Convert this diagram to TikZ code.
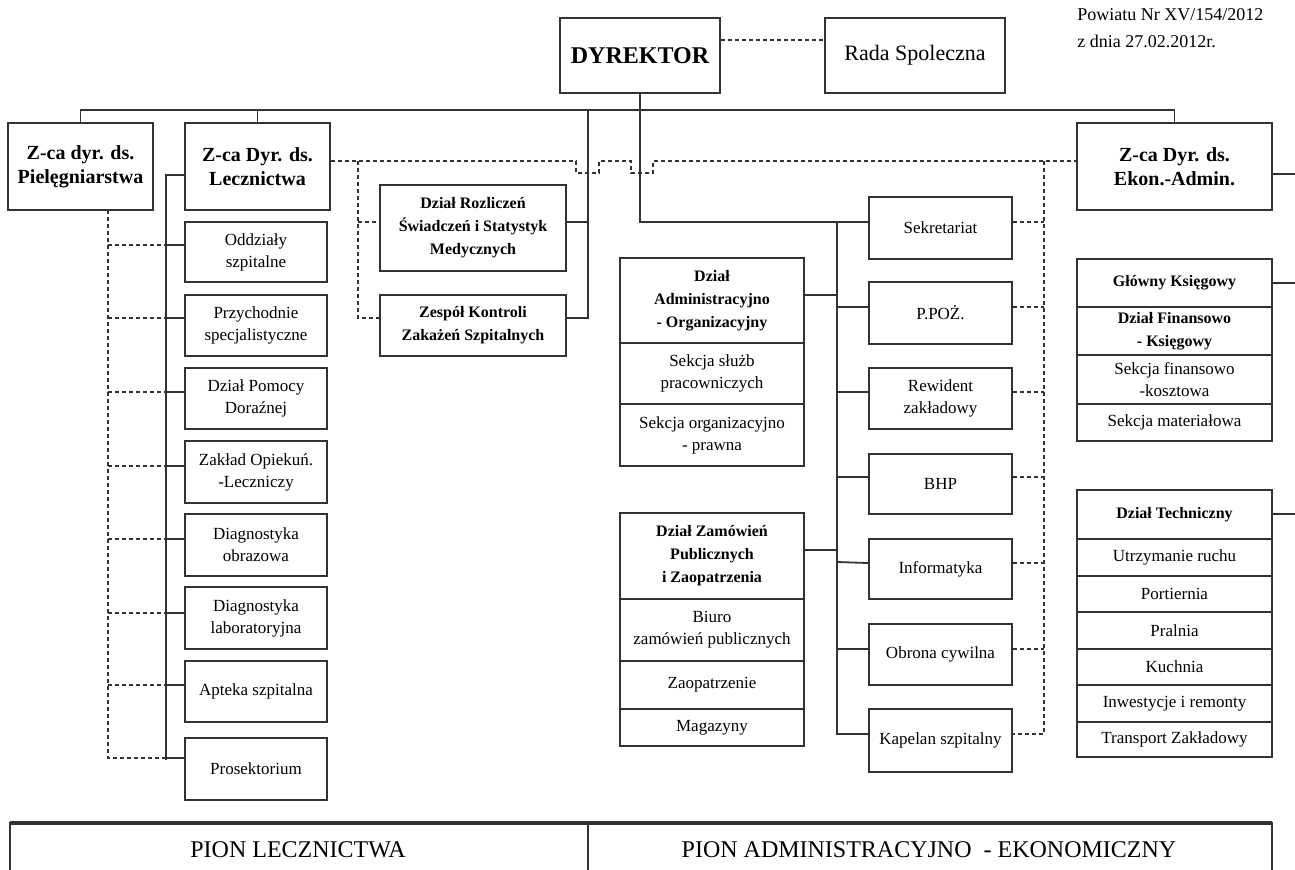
\documentclass[tikz,border=0pt]{standalone}
\usepackage{fontspec}
\setmainfont{Liberation Serif}
\usetikzlibrary{calc}
\tikzset{
	cell/.style={draw=black!80, line width=0.9pt, align=center, inner sep=1pt, font=\fontsize{8.5}{11}\selectfont},
	headcell/.style={cell, font=\fontsize{8}{11.5}\selectfont\bfseries},
	deputy/.style={cell, font=\fontsize{10}{12}\selectfont\bfseries},
	solidcon/.style={draw=black!80, line width=0.9pt},
	dotcon/.style={draw=black!80, line width=0.9pt, dash pattern=on 2pt off 1.5pt},
}
\def\cellbox(#1)[#2](#3,#4)(#5,#6)#7{\node[#2,minimum width={(#5-#3)*0.5pt},minimum height={(#6-#4)*0.5pt}] (#1) at ({(#3+#5)/2},{(#4+#6)/2}) {#7};}

\begin{document}
\begin{tikzpicture}[x=0.5pt,y=-0.5pt]
		%%%%% START %%%%%
		\useasboundingbox (0,0) rectangle (1295,869);
		
		\cellbox(dyr)[cell,font=\fontsize{12}{14}\selectfont\bfseries](560,18)(720,93){DYREKTOR}
		\cellbox(rada)[cell,font=\fontsize{11}{13}\selectfont](825,18)(1005,93){Rada Spoleczna}
		\node[anchor=base west, inner sep=0pt, font=\fontsize{9}{11}\selectfont] (note1) at (1077,20) {Powiatu Nr XV/154/2012};
		\node[anchor=base west, inner sep=0pt, font=\fontsize{9}{11}\selectfont] (note2) at (1077,47) {z dnia 27.02.2012r.};
		
		\cellbox(piel)[deputy](8,123)(153,210){Z-ca dyr. ds.\\Pielęgniarstwa}
		\cellbox(lecz)[deputy](185,123)(330,210){Z-ca Dyr. ds.\\Lecznictwa}
		\cellbox(ekon)[deputy](1077,123)(1272,210){Z-ca Dyr. ds.\\Ekon.-Admin.}
		
		\cellbox(c1)[cell](185,222)(327,282){Oddziały\\szpitalne}
		\cellbox(c2)[cell](185,295)(327,356){Przychodnie\\specjalistyczne}
		\cellbox(c3)[cell](185,368)(327,429){Dział Pomocy\\Doraźnej}
		\cellbox(c4)[cell](185,441)(327,503){Zakład Opiekuń.\\-Leczniczy}
		\cellbox(c5)[cell](185,514)(327,576){Diagnostyka\\obrazowa}
		\cellbox(c6)[cell](185,587)(327,649){Diagnostyka\\laboratoryjna}
		\cellbox(c7)[cell](185,661)(327,722){Apteka szpitalna}
		\cellbox(c8)[cell](185,738)(327,800){Prosektorium}
		
		\cellbox(rozl)[headcell](380,185)(566,271){Dział Rozliczeń\\Świadczeń i Statystyk\\Medycznych}
		\cellbox(zesp)[headcell](380,295)(566,356){Zespół Kontroli\\Zakażeń Szpitalnych}
		
		\cellbox(adm)[headcell](620,258)(804,343){Dział\\Administracyjno\\- Organizacyjny}
		\cellbox(adm1)[cell](620,343)(804,404){Sekcja służb\\pracowniczych}
		\cellbox(adm2)[cell](620,404)(804,466){Sekcja organizacyjno\\- prawna}
		
		\cellbox(zam)[headcell](620,513)(804,599){Dział Zamówień\\Publicznych\\i Zaopatrzenia}
		\cellbox(zam1)[cell](620,599)(804,661){Biuro\\zamówień publicznych}
		\cellbox(zam2)[cell](620,661)(804,709){Zaopatrzenie}
		\cellbox(zam3)[cell](620,709)(804,746){Magazyny}
		
		\cellbox(sekr)[cell](869,197)(1012,259){Sekretariat}
		\cellbox(ppoz)[cell](869,282)(1012,344){P.POŻ.}
		\cellbox(rew)[cell](869,368)(1012,429){Rewident\\zakładowy}
		\cellbox(bhp)[cell](869,454)(1012,514){BHP}
		\cellbox(info)[cell](869,539)(1012,599){Informatyka}
		\cellbox(obr)[cell](869,624)(1012,685){Obrona cywilna}
		\cellbox(kap)[cell](869,709)(1012,772){Kapelan szpitalny}
		
		\cellbox(gk)[headcell](1077,259)(1272,307){Główny Księgowy}
		\cellbox(gk1)[headcell](1077,307)(1272,355){Dział Finansowo\\- Księgowy}
		\cellbox(gk2)[cell](1077,355)(1272,404){Sekcja finansowo\\-kosztowa}
		\cellbox(gk3)[cell](1077,404)(1272,441){Sekcja materiałowa}
		
		\cellbox(tech)[headcell](1077,490)(1272,539){Dział Techniczny}
		\cellbox(t1)[cell](1077,539)(1272,576){Utrzymanie ruchu}
		\cellbox(t2)[cell](1077,576)(1272,612){Portiernia}
		\cellbox(t3)[cell](1077,612)(1272,649){Pralnia}
		\cellbox(t4)[cell](1077,649)(1272,685){Kuchnia}
		\cellbox(t5)[cell](1077,685)(1272,722){Inwestycje i remonty}
		\cellbox(t6)[cell](1077,722)(1272,757){Transport Zakładowy}
		
		% junctions
		\coordinate (bus) at (0,110);
		\coordinate (mid) at (588,110);
		\coordinate (rbus) at (837,222);
		\coordinate (lbus) at (166,175);
		\coordinate (pdot) at (108,210);
		\coordinate (ldot) at (358,161);
		\coordinate (rdot) at (1044,161);
		\coordinate (redge) at (1295,0);
		
		% solid lines
		\draw[solidcon] (piel.north) -- (piel.north |- bus) -| (ekon.north);
		\draw[solidcon] (lecz.north) -- (lecz.north |- bus);
		\draw[solidcon] (dyr.south) |- (sekr.west |- rbus);
		\draw[solidcon] (mid) |- (zesp.east |- 0,318);
		\draw[solidcon] (rozl.east |- 0,222) -- (mid |- 0,222);
		
		\draw[solidcon] (rbus) |- (kap.west |- 0,734);
		\draw[solidcon] (ppoz.west |- 0,307) -- (rbus |- 0,307);
		\draw[solidcon] (rew.west |- 0,392) -- (rbus |- 0,392);
		\draw[solidcon] (bhp.west |- 0,477) -- (rbus |- 0,477);
		\draw[solidcon] (info.west |- 0,563) -- (rbus |- 0,562);
		\draw[solidcon] (obr.west |- 0,649) -- (rbus |- 0,649);
		\draw[solidcon] (adm.east |- 0,295) -- (rbus |- 0,295);
		\draw[solidcon] (zam.east |- 0,550) -- (rbus |- 0,550);
		
		\draw[solidcon] (lecz.west |- lbus) -- (lbus) -- (lbus |- 0,760);
		\draw[solidcon] (c1.west |- 0,245) -- (lbus |- 0,245);
		\draw[solidcon] (c2.west |- 0,318) -- (lbus |- 0,318);
		\draw[solidcon] (c3.west |- 0,392) -- (lbus |- 0,392);
		\draw[solidcon] (c4.west |- 0,466) -- (lbus |- 0,466);
		\draw[solidcon] (c5.west |- 0,539) -- (lbus |- 0,539);
		\draw[solidcon] (c6.west |- 0,613) -- (lbus |- 0,613);
		\draw[solidcon] (c7.west |- 0,685) -- (lbus |- 0,685);
		\draw[solidcon] (c8.west |- 0,758) -- (lbus |- 0,758);
		
		\draw[solidcon] (ekon.east |- 0,174) -- (redge |- 0,174);
		\draw[solidcon] (gk.east |- 0,283) -- (redge |- 0,283);
		\draw[solidcon] (tech.east |- 0,514) -- (redge |- 0,514);
		
		% dotted lines
		\draw[dotcon] (dyr.east |- 0,40) -- (rada.west |- 0,40);
		\draw[dotcon] (lecz.east |- ldot) -- (576,161) -- (576,173) -- (599,173) -- (599,161)
			-- (631,161) -- (631,173) -- (653,173) -- (653,161) -- (ekon.west |- rdot);
		\draw[dotcon] (ldot) |- (zesp.west |- 0,318);
		\draw[dotcon] (ldot |- 0,222) -- (rozl.west |- 0,222);
		
		\draw[dotcon] (rdot) |- (kap.east |- 0,734);
		\draw[dotcon] (sekr.east |- 0,222) -- (rdot |- 0,222);
		\draw[dotcon] (ppoz.east |- 0,307) -- (rdot |- 0,307);
		\draw[dotcon] (rew.east |- 0,392) -- (rdot |- 0,392);
		\draw[dotcon] (bhp.east |- 0,477) -- (rdot |- 0,477);
		\draw[dotcon] (info.east |- 0,563) -- (rdot |- 0,563);
		\draw[dotcon] (obr.east |- 0,649) -- (rdot |- 0,649);
		
		\draw[dotcon] (pdot) |- (lbus |- 0,758);
		\draw[dotcon] (pdot |- 0,245) -- (lbus |- 0,245);
		\draw[dotcon] (pdot |- 0,318) -- (lbus |- 0,318);
		\draw[dotcon] (pdot |- 0,392) -- (lbus |- 0,392);
		\draw[dotcon] (pdot |- 0,466) -- (lbus |- 0,466);
		\draw[dotcon] (pdot |- 0,539) -- (lbus |- 0,539);
		\draw[dotcon] (pdot |- 0,613) -- (lbus |- 0,613);
		\draw[dotcon] (pdot |- 0,685) -- (lbus |- 0,685);
		
		% bottom table
		\draw[solidcon] (10,880) -- (10,823) -- (1272,823) -- (1272,880);
		\draw[draw=black!80, line width=1.8pt] (10,823) -- (1272,823);
		\draw[solidcon] (588,823) -- (588,880);
		\node[font=\fontsize{12}{14}\selectfont] (pionL) at (298,850) {PION LECZNICTWA};
		\node[font=\fontsize{12}{14}\selectfont] (pionA) at (929,850) {PION ADMINISTRACYJNO \ - EKONOMICZNY};
		%%%%% END %%%%%
\end{tikzpicture}
\end{document}
